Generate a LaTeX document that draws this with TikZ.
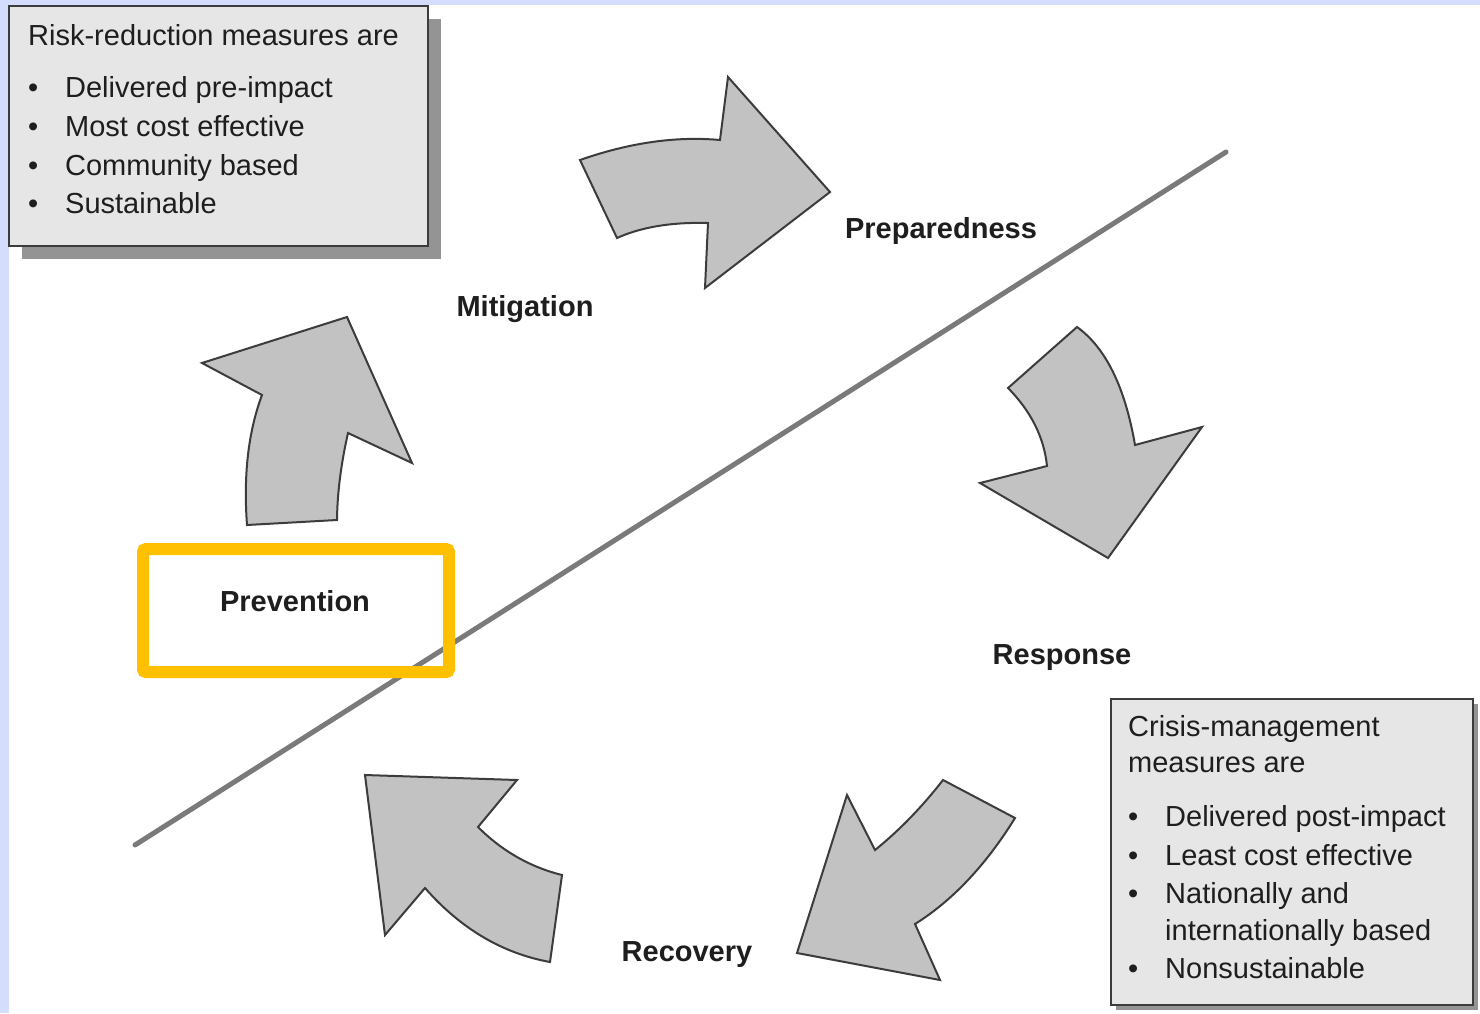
\documentclass[tikz,border=0pt]{standalone}
\usepackage{fontspec}
\setmainfont{Liberation Sans}
\usetikzlibrary{shadows}
\definecolor{bgblue}{HTML}{D4DDFC}
\definecolor{arrowgray}{HTML}{C2C2C2}
\definecolor{arrowedge}{HTML}{3C3C3C}
\definecolor{txt}{HTML}{1E1E1E}
\definecolor{boxfill}{HTML}{E6E6E6}
\definecolor{linegray}{HTML}{7A7A7A}
\definecolor{orangehl}{HTML}{FFC000}
\newcommand{\bitem}{\makebox[37pt][l]{\textbullet}}
\begin{document}
\begin{tikzpicture}[x=1pt,y=-1pt,
  arrowshape/.style={fill=arrowgray, draw=arrowedge, line width=2pt, line join=miter},
  lbl/.style={font=\fontsize{29}{34}\selectfont\bfseries, text=txt, inner sep=0pt, anchor=base},
  boxtxt/.style={font=\fontsize{29}{34}\selectfont, text=txt, inner sep=0pt, anchor=base west},
  infobox/.style={draw=arrowedge, line width=2pt, fill=boxfill, inner sep=0pt}
]
\useasboundingbox (0,0) rectangle (1480,1013);
\fill[bgblue] (0,0) rectangle (1480,1013);
\fill[white] (9,5) rectangle (1480,1013);

% dividing line
\coordinate (lineA) at (135,845);
\coordinate (lineB) at (1226,152);
\draw[linegray, line width=5pt, line cap=round] (lineA) -- (lineB);

% info boxes
\node[infobox, drop shadow={shadow xshift=13pt, shadow yshift=-13pt, fill=black!42, opacity=1},
      minimum width=419pt, minimum height=240pt] (rrbox) at (218.5,126) {};
\node[boxtxt] (rr0) at (28,45) {Risk-reduction measures are};
\node[boxtxt] (rr1) at (28,97) {\bitem Delivered pre-impact};
\node[boxtxt] (rr2) at (28,136.5) {\bitem Most cost effective};
\node[boxtxt] (rr3) at (28,175) {\bitem Community based};
\node[boxtxt] (rr4) at (28,213.5) {\bitem Sustainable};

\node[infobox, drop shadow={shadow xshift=5pt, shadow yshift=-5pt, fill=black!42, opacity=1},
      minimum width=362pt, minimum height=306pt] (cmbox) at (1292,852) {};
\node[boxtxt] (cm0) at (1128,736.5) {Crisis-management};
\node[boxtxt] (cm1) at (1128,772.5) {measures are};
\node[boxtxt] (cm2) at (1128,826.5) {\bitem Delivered post-impact};
\node[boxtxt] (cm3) at (1128,865) {\bitem Least cost effective};
\node[boxtxt] (cm4) at (1128,903.5) {\bitem Nationally and};
\node[boxtxt] (cm5) at (1165,940) {internationally based};
\node[boxtxt] (cm6) at (1128,978.5) {\bitem Nonsustainable};

% curved block arrows
\draw[arrowshape] (247,525) -- (337,520) .. controls (337.3,493) and (341,464) .. (348,433)
  -- (412,463) -- (347,317) -- (202,363) -- (262,395)
  .. controls (248.3,431.7) and (243.3,475) .. (247,525) -- cycle;

\draw[arrowshape] (580,160) -- (617,238) .. controls (641.3,227) and (671.7,222) .. (708,223)
  -- (705,288) -- (830,192) -- (728,77) -- (720,140)
  .. controls (676,136) and (629.3,142.7) .. (580,160) -- cycle;

\draw[arrowshape] (1008,388) -- (1077,327) .. controls (1105.7,347.7) and (1125,387) .. (1135,445)
  -- (1202,427) -- (1108,558) -- (980,483) -- (1047,466)
  .. controls (1044,437.3) and (1031,411.3) .. (1008,388) -- cycle;

\draw[arrowshape] (943,780) -- (1015,818) .. controls (985.7,865.3) and (952.3,900.7) .. (915,924)
  -- (940,980) -- (797,953) -- (847,795) -- (875,850)
  .. controls (899,830.7) and (921.7,807.3) .. (943,780) -- cycle;

\draw[arrowshape] (365,775) -- (517,780) -- (478,827) .. controls (502,851) and (530,867) .. (562,875)
  -- (550,962) .. controls (502.3,953.3) and (460.7,928.7) .. (425,888)
  -- (385,935) -- cycle;

% phase labels
\node[lbl] (prep) at (941,238) {Preparedness};
\node[lbl] (miti) at (525,316) {Mitigation};
\node[lbl] (resp) at (1062,664) {Response};
\node[lbl] (reco) at (687,961) {Recovery};
\node[lbl] (prev) at (295,611) {Prevention};

% highlight frame
\draw[orangehl, line width=12pt, rounded corners=3pt] (143,549) rectangle (449,672);
\end{tikzpicture}
\end{document}
